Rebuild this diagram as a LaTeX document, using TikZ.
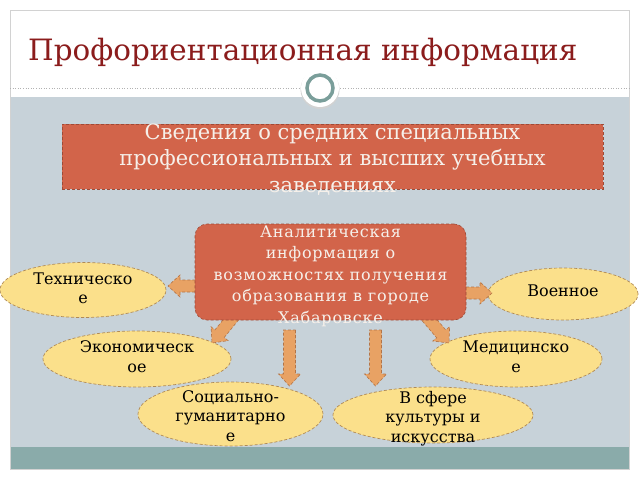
\documentclass[tikz,border=0pt]{standalone}
\usepackage{fontspec}
\setmainfont{DejaVu Serif}
\newfontfamily\spacedfont[LetterSpace=5]{DejaVu Serif}
\usetikzlibrary{calc,shapes.geometric}
\definecolor{slidebg}{HTML}{C7D2D9}
\definecolor{band}{HTML}{8AABAA}
\definecolor{coral}{HTML}{D2644A}
\definecolor{coraldark}{HTML}{9E4A36}
\definecolor{ovalfill}{HTML}{FBE08B}
\definecolor{ovaldraw}{HTML}{B08A55}
\definecolor{arrfill}{HTML}{E8A264}
\definecolor{arrdraw}{HTML}{B47446}
\definecolor{titlered}{HTML}{8B1C1C}
\definecolor{ring}{HTML}{7A9E9A}
\definecolor{boxtext}{HTML}{F6F0EA}
\newcommand\smashtext[2][0pt]{\raisebox{#1}[0pt][0pt]{\begin{tabular}{@{}c@{}}#2\end{tabular}}}
\newcommand\blockarrow[2]{%
  \path ($(#2)!12pt!(#1)$) coordinate (hb);
  \draw[barrow] ($(#1)!6pt!90:(#2)$) -- ($(hb)!6pt!-90:(#1)$) -- ($(hb)!11pt!-90:(#1)$)
    -- (#2) -- ($(hb)!11pt!90:(#1)$) -- ($(hb)!6pt!90:(#1)$) -- ($(#1)!6pt!-90:(#2)$) -- cycle;}
\tikzset{
  redbox/.style={rectangle, fill=coral, draw=coraldark, densely dashed, line width=0.6pt, text=boxtext, inner sep=0pt},
  oval/.style={ellipse, fill=ovalfill, draw=ovaldraw, densely dashed, line width=0.7pt, inner sep=0pt,
    font=\fontsize{16}{19.5}\selectfont},
  barrow/.style={fill=arrfill, draw=arrdraw, densely dashed, line width=0.6pt},
}
\begin{document}
\begin{tikzpicture}[x=1pt,y=-1pt]
\useasboundingbox (0,0) rectangle (640,480);
\fill[white] (0,0) rectangle (640,480);
% slide frame
\fill[slidebg] (10,97) rectangle (629,447);
\fill[band] (10,447) rectangle (629,469);
\draw[gray!35, line width=1pt] (10,10) rectangle (629,469);
\draw[gray!60, dotted, line width=0.6pt] (10,88) -- (629,88);
% ornament circle
\fill[gray!35] (320,89.5) circle (19.5);
\fill[white] (320,88) circle (19);
\draw[ring, line width=3.5pt] (320,88) circle (13);
% title
\node[anchor=base west, inner sep=0pt, text=titlered, font=\fontsize{29.4}{36}\selectfont] (title) at (28,60) {Профориентационная информация};
% top box
\node[redbox, minimum width=541pt, minimum height=65pt, font=\fontsize{21}{26.5}\selectfont] (top) at (332.5,156.5)
  {\smashtext[-9pt]{Сведения о средних специальных\\профессиональных и высших учебных\\заведениях}};
% ovals
\node[oval, minimum width=166pt, minimum height=55pt] (tech) at (83,290) {\smashtext[-4.5pt]{Техническо\\е}};
\node[oval, minimum width=150pt, minimum height=52pt] (mil) at (563,294) {\smashtext[-3pt]{Военное}};
\node[oval, minimum width=188pt, minimum height=56pt] (econ) at (137,359) {\smashtext[-4pt]{Экономическ\\ое}};
\node[oval, minimum width=172pt, minimum height=56pt] (med) at (516,359) {\smashtext[-4pt]{Медицинско\\е}};
\node[oval, minimum width=185pt, minimum height=64pt] (soc) at (230.5,414) {\smashtext[-8pt]{Социально-\\гуманитарно\\е}};
\node[oval, minimum width=200pt, minimum height=56pt] (cult) at (433,415) {\smashtext[-8pt]{В сфере\\культуры и\\искусства}};
% arrows
\coordinate (aL1) at (200,286); \coordinate (aL2) at (168,286);
\coordinate (aR1) at (461,293); \coordinate (aR2) at (492,293);
\coordinate (aDL1) at (234,316); \coordinate (aDL2) at (212,343);
\coordinate (aDR1) at (426,316); \coordinate (aDR2) at (449,343);
\coordinate (aV1) at (289.5,330); \coordinate (aV2) at (289.5,386);
\coordinate (aW1) at (375.5,330); \coordinate (aW2) at (375.5,386);
\blockarrow{aL1}{aL2}
\blockarrow{aR1}{aR2}
\blockarrow{aDL1}{aDL2}
\blockarrow{aDR1}{aDR2}
\blockarrow{aV1}{aV2}
\blockarrow{aW1}{aW2}
% center box
\node[redbox, rounded corners=12pt, minimum width=271pt, minimum height=96pt, font=\spacedfont\fontsize{16}{21.5}\selectfont] (center) at (330.5,272)
  {\smashtext[-8.5pt]{Аналитическая\\информация о\\возможностях получения\\образования в городе\\Хабаровске}};
\end{tikzpicture}
\end{document}
